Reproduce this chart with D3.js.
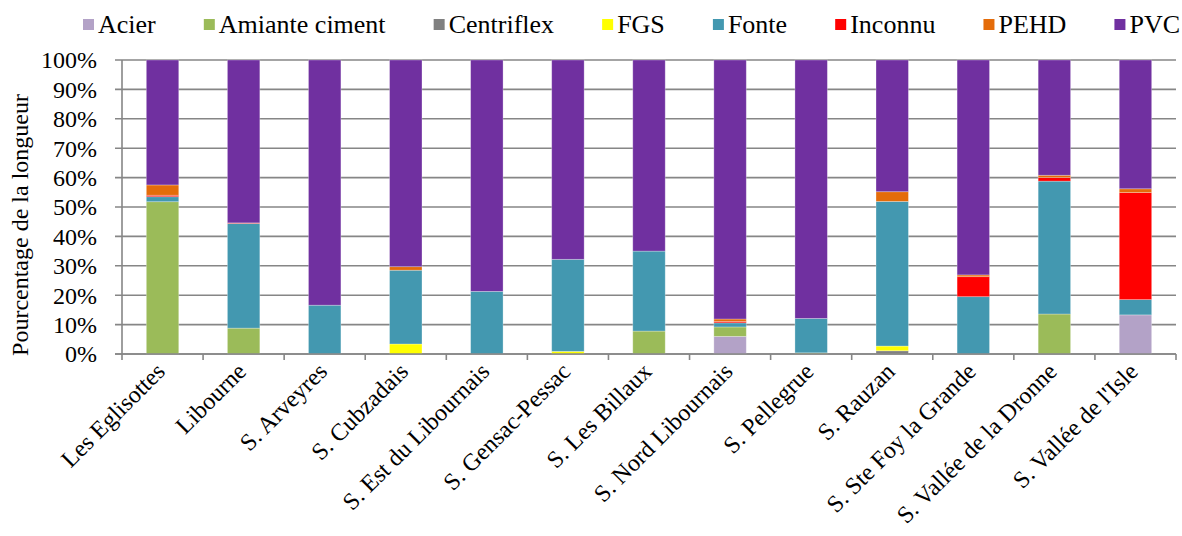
<!DOCTYPE html>
<html>
<head>
<meta charset="utf-8">
<script src="https://cdn.jsdelivr.net/npm/d3@7"></script>
<style>
  html, body { margin: 0; padding: 0; background: #fff; }
  svg { display: block; }
</style>
</head>
<body>
<svg id="chart" width="1182" height="536"></svg>
<script>
// ---- data ----
const categories = ["Les Eglisottes", "Libourne", "S. Arveyres", "S. Cubzadais", "S. Est du Libournais",
  "S. Gensac-Pessac", "S. Les Billaux", "S. Nord Libournais", "S. Pellegrue", "S. Rauzan",
  "S. Ste Foy la Grande", "S. Vallée de la Dronne", "S. Vallée de l'Isle"];
const seriesNames = ["Acier", "Amiante ciment", "Centriflex", "FGS", "Fonte", "Inconnu", "PEHD", "PVC"];
const acier      = [0, 0, 0, 0, 0, 0, 0, 6.0, 0, 0, 0, 0, 13.3];
const amiante    = [51.8, 8.8, 0, 0, 0, 0, 7.8, 3.2, 0.4, 0, 0, 13.6, 0];
const centriflex = [0, 0, 0, 0, 0, 0, 0, 0, 0, 1.1, 0, 0, 0];
const fgs        = [0, 0, 0, 3.4, 0, 0.9, 0, 0, 0, 1.6, 0, 0, 0];
const fonte      = [1.7, 35.6, 16.6, 25.1, 21.3, 31.3, 27.2, 1.4, 11.7, 49.2, 19.5, 45.2, 5.2];
const inconnu    = [0.5, 0.2, 0, 0, 0, 0, 0, 0.5, 0, 0, 6.8, 1.2, 36.4];
const pehd       = [3.5, 0, 0, 1.2, 0, 0, 0, 0.8, 0, 3.3, 0.6, 0.8, 1.3];
const pvc        = [42.5, 55.4, 83.4, 70.3, 78.7, 67.8, 65.0, 88.1, 87.9, 44.8, 73.1, 39.2, 43.8];
const yTicks = [0, 10, 20, 30, 40, 50, 60, 70, 80, 90, 100];
const yTitle = "Pourcentage de la longueur";

const seriesValues = [acier, amiante, centriflex, fgs, fonte, inconnu, pehd, pvc];
const colors = ["#B3A2C7", "#9BBB59", "#808080", "#FFFF00", "#4398B0", "#FF0000", "#E46C0A", "#7030A0"];

// table for d3.stack
const rows = categories.map((c, i) => {
  const r = { cat: c };
  seriesNames.forEach((s, j) => r[s] = seriesValues[j][i]);
  return r;
});

const FONT = "'Liberation Serif', 'Times New Roman', Times, serif";
const svg = d3.select("#chart").attr("font-family", FONT);
const pLeft = 122, pRight = 1176, pTop = 60, pBottom = 354;
const FS = 24, LFS = 26;

function styleText(sel, fs) {
  return sel.attr("font-family", FONT).style("font-family", FONT)
    .style("font-size", (fs || FS) + "px").attr("fill", "#000");
}

const x = d3.scaleBand().domain(categories).range([pLeft, pRight]).paddingInner(0.6).paddingOuter(0.3);
const y = d3.scaleLinear().domain([0, 100]).range([pBottom, pTop]);

// gridlines (with tick stubs to the left)
const gridColor = "#868686";
svg.append("g").selectAll("line").data(yTicks).join("line")
  .attr("x1", pLeft - 7).attr("x2", pRight)
  .attr("y1", d => y(d)).attr("y2", d => y(d))
  .attr("stroke", gridColor).attr("stroke-width", 1.6);

// y tick labels
styleText(svg.append("g").selectAll("text").data(yTicks).join("text")
  .attr("x", pLeft - 25).attr("y", d => y(d))
  .attr("dy", "0.35em")
  .attr("text-anchor", "end")
  .text(d => d + "%"));

// y axis line
svg.append("line").attr("x1", pLeft).attr("x2", pLeft).attr("y1", pTop).attr("y2", pBottom)
  .attr("stroke", gridColor).attr("stroke-width", 1.6);

// y title
styleText(svg.append("text")
  .attr("transform", `translate(${28},${(pTop + pBottom) / 2 + 18}) rotate(-90)`)
  .attr("text-anchor", "middle")
  .text(yTitle));

// stacked bars
const stack = d3.stack().keys(seriesNames);
const stacked = stack(rows);
svg.append("g").selectAll("g").data(stacked).join("g")
  .attr("fill", (d, i) => colors[i])
  .selectAll("rect").data(d => d).join("rect")
  .attr("x", d => x(d.data.cat))
  .attr("width", x.bandwidth())
  .attr("y", d => y(d[1]))
  .attr("height", d => Math.max(0, y(d[0]) - y(d[1])))
  .attr("stroke", "rgba(255,255,255,0.35)")
  .attr("stroke-width", 0.8);

// x axis line and ticks at band boundaries
const step = x.step();
const boundaries = d3.range(categories.length + 1).map(i => pLeft + i * step);
svg.append("line").attr("x1", pLeft - 7).attr("x2", pRight).attr("y1", pBottom).attr("y2", pBottom)
  .attr("stroke", gridColor).attr("stroke-width", 1.6);
svg.append("g").selectAll("line").data(boundaries).join("line")
  .attr("x1", d => d).attr("x2", d => d).attr("y1", pBottom).attr("y2", pBottom + 6)
  .attr("stroke", gridColor).attr("stroke-width", 1.6);

// x labels rotated
styleText(svg.append("g").selectAll("text").data(categories).join("text")
  .attr("transform", d => `translate(${x(d) + x.bandwidth() / 2 - 2},${pBottom + 13}) rotate(-45)`)
  .attr("text-anchor", "end")
  .attr("dy", "0.35em")
  .text(d => d));

// legend
const lg = svg.append("g");
const items = lg.selectAll("g").data(seriesNames).join("g");
items.append("rect").attr("width", 11).attr("height", 11).attr("y", 19)
  .attr("fill", (d, i) => colors[i]);
styleText(items.append("text").attr("x", 15).attr("y", 33).text(d => d), LFS);
const widths = [];
items.each(function () { widths.push(15 + d3.select(this).select("text").node().getComputedTextLength()); });
const legL = 83, legR = 1180;
const gap = (legR - legL - d3.sum(widths)) / (seriesNames.length - 1);
let lx = legL;
items.attr("transform", (d, i) => { const t = `translate(${lx},0)`; lx += widths[i] + gap; return t; });
</script>
</body>
</html>
